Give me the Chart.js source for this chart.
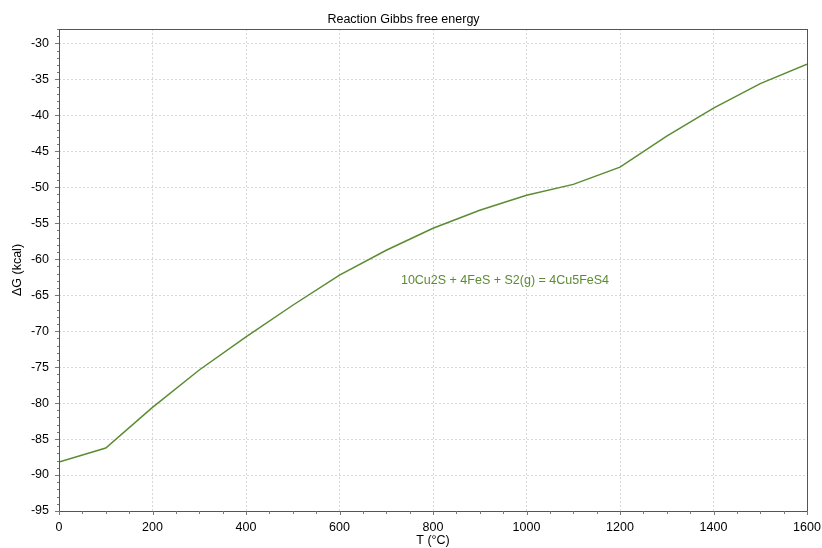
<!DOCTYPE html>
<html><head><meta charset="utf-8">
<script src="https://cdn.jsdelivr.net/npm/chart.js@4"></script>
<style>html,body{margin:0;padding:0;background:#fff}#wrap{width:822px;height:548px}</style>
</head><body><div id="wrap"><canvas id="c"></canvas></div>
<script>
const temperatures = [0,100,200,300,400,500,600,700,800,900,1000,1100,1200,1300,1400,1500,1600];
const deltaG = [-88.2,-86.25,-80.6,-75.4,-70.8,-66.4,-62.2,-58.75,-55.7,-53.2,-51.1,-49.6,-47.2,-42.9,-39.0,-35.6,-32.9];
const reactionLabel = "10Cu2S + 4FeS + S2(g) = 4Cu5FeS4";
const labelPos = {x: 954, y: -62.9};
const chartTitle = "Reaction Gibbs free energy";
const xTitle = "T (°C)";
const yTitle = "ΔG (kcal)";
const lineColor = "#5b8c32";
const FONT = "'Liberation Sans', Arial, sans-serif";

const extras = {
  id: 'extras',
  afterDraw(chart) {
    const {ctx, chartArea: a, scales: {x, y}} = chart;
    ctx.save();
    ctx.strokeStyle = '#555';
    ctx.lineWidth = 1;
    ctx.strokeRect(Math.round(a.left)+0.5, Math.round(a.top)+0.5, Math.round(a.right-a.left), Math.round(a.bottom-a.top));
    ctx.strokeStyle = '#777';
    ctx.beginPath();
    for (let v = 0; v <= 1600; v += 50) {
      const px = Math.round(x.getPixelForValue(v)) + 0.5;
      const len = v % 200 === 0 ? 4 : 3;
      ctx.moveTo(px, a.bottom); ctx.lineTo(px, a.bottom + len);
    }
    for (let v = -95; v <= -28; v += 1) {
      const py = Math.round(y.getPixelForValue(v)) + 0.5;
      const len = v % 5 === 0 ? 4 : 2;
      ctx.moveTo(a.left - len, py); ctx.lineTo(a.left, py);
    }
    ctx.stroke();
    ctx.fillStyle = lineColor;
    ctx.font = "12.5px " + FONT;
    ctx.textAlign = 'center';
    ctx.textBaseline = 'middle';
    ctx.fillText(reactionLabel, x.getPixelForValue(labelPos.x), y.getPixelForValue(labelPos.y));
    ctx.restore();
  }
};

new Chart(document.getElementById('c'), {
  type: 'line',
  data: {
    datasets: [{
      data: temperatures.map((t, i) => ({x: t, y: deltaG[i]})),
      borderColor: lineColor,
      borderWidth: 1.5,
      pointRadius: 0,
      tension: 0,
      fill: false
    }]
  },
  options: {
    responsive: true,
    maintainAspectRatio: false,
    animation: false,
    layout: {padding: {left: 0, right: 15, top: 0, bottom: 0}},
    plugins: {
      legend: {display: false},
      tooltip: {enabled: false},
      title: {display: true, text: chartTitle, color: '#000', font: {family: FONT, size: 12.5, weight: 'normal'}, padding: {top: 12, bottom: 2}}
    },
    scales: {
      x: {
        type: 'linear', min: 0, max: 1600,
        ticks: {stepSize: 200, color: '#000', font: {family: FONT, size: 12.5}, padding: 9, maxRotation: 0,
          callback: v => String(v)},
        grid: {color: '#d8d8d8', drawTicks: false},
        border: {display: false, dash: [2, 2]},
        title: {display: true, text: xTitle, color: '#000', font: {family: FONT, size: 12.5}, padding: {top: 0, bottom: 0}},
        afterFit(s) { s.height = 37; s.paddingRight = 0; s.paddingLeft = 0; }
      },
      y: {
        type: 'linear', min: -95, max: -28,
        ticks: {stepSize: 5, includeBounds: false, color: '#000', font: {family: FONT, size: 12.5}, padding: 10, callback: v => String(v)},
        afterBuildTicks(s) { s.ticks = s.ticks.filter(t => t.value % 5 === 0); },
        grid: {color: '#d8d8d8', drawTicks: false},
        border: {display: false, dash: [2, 2]},
        title: {display: true, text: yTitle, color: '#000', font: {family: FONT, size: 12.5}, padding: {top: 10, bottom: 0}},
        afterFit(s) { s.width = 59; s.paddingTop = 0; s.paddingBottom = 0; }
      }
    }
  },
  plugins: [extras]
});
</script></body></html>
